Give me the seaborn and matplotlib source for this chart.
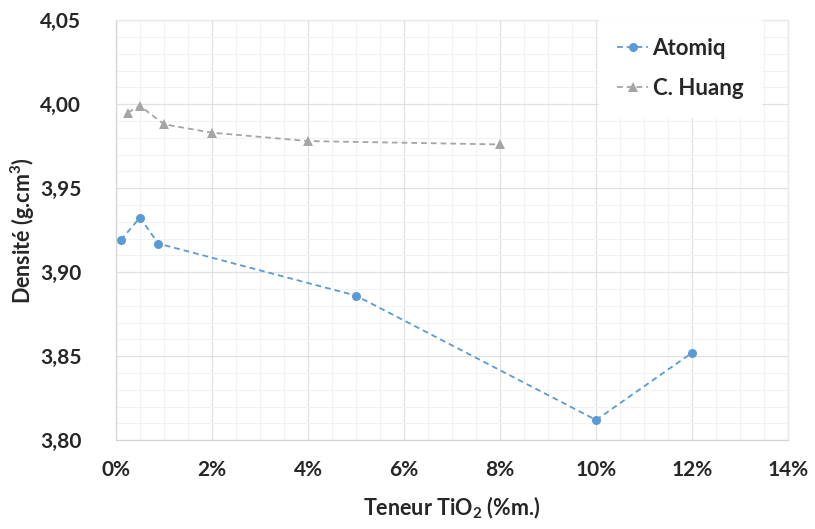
import matplotlib
matplotlib.use('Agg')
import matplotlib.pyplot as plt
import pandas as pd
import seaborn as sns
from matplotlib.ticker import MultipleLocator, FuncFormatter

# data
atomiq_x = [0.1, 0.5, 0.88, 5.0, 10.0, 12.0]
atomiq_y = [3.919, 3.9325, 3.917, 3.886, 3.812, 3.852]
huang_x = [0.25, 0.5, 1.0, 2.0, 4.0, 8.0]
huang_y = [3.995, 3.999, 3.988, 3.983, 3.978, 3.976]
series_names = ['Atomiq', 'C. Huang']
series_colors = ['#5B9BD5', '#A5A5A5']

df = pd.concat([
    pd.DataFrame({'x': atomiq_x, 'y': atomiq_y, 'source': series_names[0]}),
    pd.DataFrame({'x': huang_x, 'y': huang_y, 'source': series_names[1]}),
])

sns.set_theme(style='white')
plt.rcParams['font.family'] = ['Lato', 'DejaVu Sans']
plt.rcParams['mathtext.fontset'] = 'custom'
plt.rcParams['mathtext.rm'] = 'Lato:bold'
plt.rcParams['mathtext.it'] = 'Lato:bold'
plt.rcParams['mathtext.bf'] = 'Lato:bold'

fig = plt.figure(figsize=(8.15, 5.29), dpi=100)
ax = fig.add_axes([0.1423, 0.168, 0.8247, 0.794])

sns.lineplot(data=df, x='x', y='y', hue='source', style='source',
             palette=dict(zip(series_names, series_colors)),
             markers={'Atomiq': 'o', 'C. Huang': '^'},
             dashes={'Atomiq': (3.2, 2.2), 'C. Huang': (3.2, 2.2)},
             markersize=6.5, markeredgewidth=0, linewidth=1.3,
             sort=False, ax=ax)

ax.set_xlim(0, 14)
ax.set_ylim(3.80, 4.05)
ax.xaxis.set_major_locator(MultipleLocator(2))
ax.xaxis.set_minor_locator(MultipleLocator(0.5))
ax.yaxis.set_major_locator(MultipleLocator(0.05))
ax.yaxis.set_minor_locator(MultipleLocator(0.01))
ax.xaxis.set_major_formatter(FuncFormatter(lambda v, p: f'{v:.0f}%'))
ax.yaxis.set_major_formatter(FuncFormatter(lambda v, p: f'{v:.2f}'.replace('.', ',')))

ax.grid(which='major', color='#e0e0e0', linewidth=0.9)
ax.grid(which='minor', color='#f2f2f2', linewidth=0.8)
ax.set_axisbelow(True)
for side in ['top', 'right']:
    ax.spines[side].set_color('#e8e8e8')
for side in ['left', 'bottom']:
    ax.spines[side].set_color('#d4d4d4')
for s in ax.spines.values():
    s.set_linewidth(0.9)

ax.tick_params(axis='both', which='both', length=0, labelsize=15)
ax.tick_params(axis='y', pad=25)
ax.tick_params(axis='x', pad=14)
for lab in ax.get_xticklabels() + ax.get_yticklabels():
    lab.set_fontweight('bold')

ax.set_xlabel('Teneur TiO$_2$ (%m.)', fontsize=15.5, fontweight='bold', labelpad=11)
ax.set_ylabel('Densité (g.cm$^3$)', fontsize=15.5, fontweight='bold', labelpad=2)

leg = ax.legend(loc='upper left', bbox_to_anchor=(0.719, 1.0), borderaxespad=0,
                frameon=True, fancybox=False, framealpha=1,
                edgecolor='white', facecolor='white', prop={'weight': 'bold', 'size': 16},
                handlelength=1.4, handletextpad=0.2, borderpad=0.8, labelspacing=0.85)

plt.savefig('out.png', dpi=100)
